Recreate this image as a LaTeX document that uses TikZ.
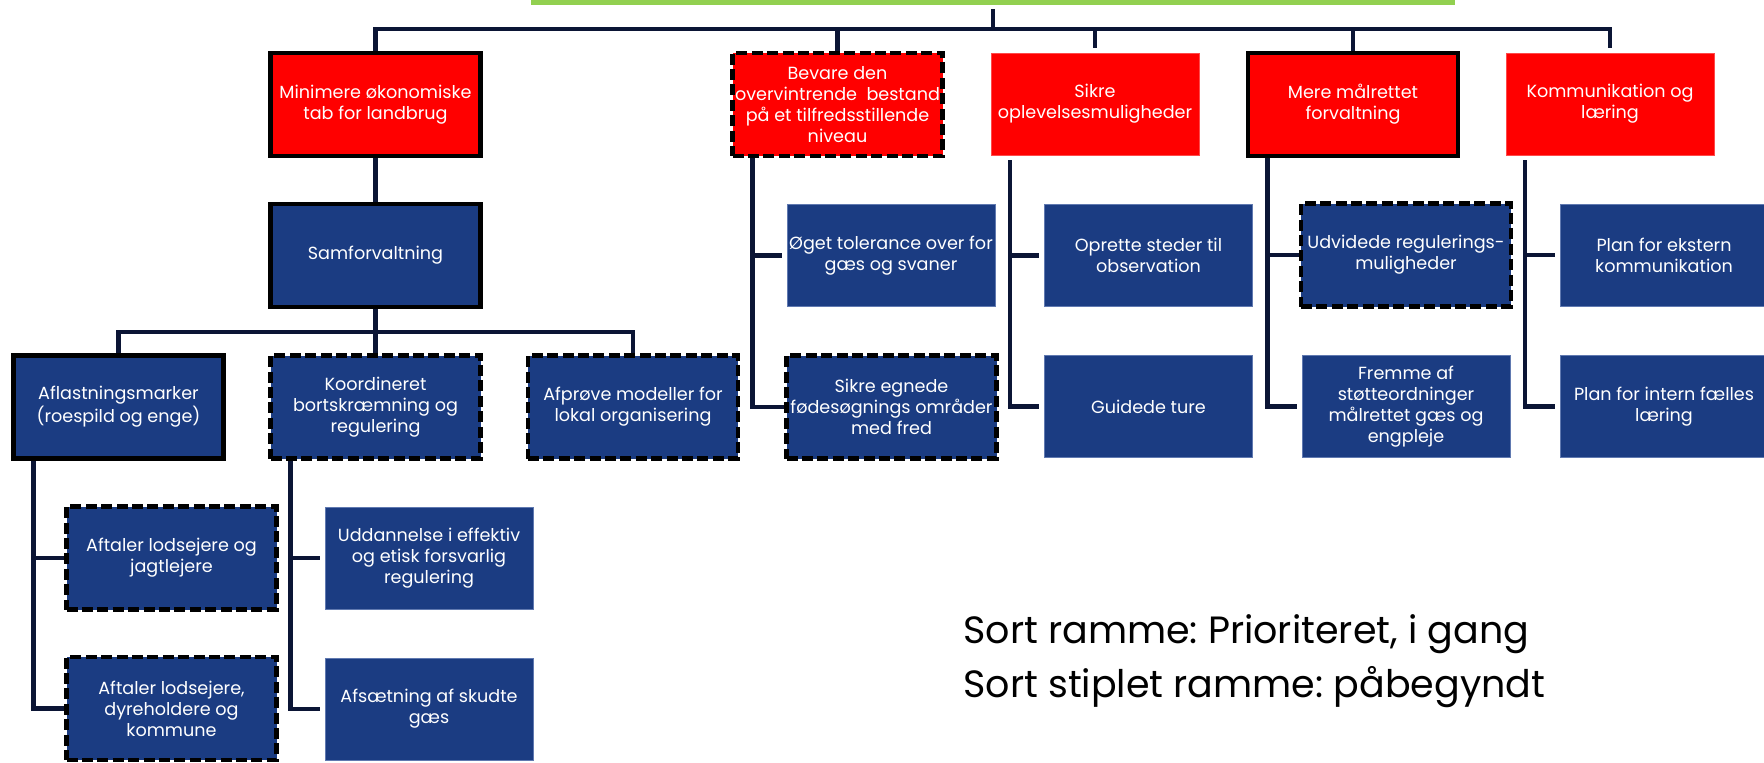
\documentclass[tikz,border=0pt]{standalone}
\usepackage{fontspec}
\setmainfont{Poppins}
\usetikzlibrary{calc}
\definecolor{boxred}{HTML}{FF0000}
\definecolor{boxblue}{HTML}{1B3C82}
\definecolor{connavy}{HTML}{0B1535}
\definecolor{topgreen}{HTML}{92D050}
\definecolor{blueedge}{HTML}{6079B0}
\definecolor{rededge}{HTML}{FF4A4A}
\frenchspacing
\begin{document}
\begin{tikzpicture}[x=0.5pt,y=-0.5pt,
  box/.style={rectangle, minimum width=105pt, minimum height=51.5pt, inner sep=1pt,
    align=center, text=white, font=\fontsize{8.8}{10.5}\selectfont},
  redbox/.style={box, fill=boxred},
  bluebox/.style={box, fill=boxblue},
  solidframe/.style={draw=black, line width=2.25pt},
  dashframe/.style={draw=black, line width=2.1pt, dash pattern=on 5.5pt off 2.2pt},
  noframe/.style={minimum width=104pt, minimum height=51pt, line width=0.5pt, outer sep=2.6pt},
  rsolid/.style={redbox, solidframe},
  rdash/.style={redbox, dashframe},
  rplain/.style={redbox, noframe, draw=rededge},
  bsolid/.style={bluebox, solidframe},
  bdash/.style={bluebox, dashframe},
  bplain/.style={bluebox, noframe, draw=blueedge},
  conn/.style={draw=connavy, line width=2.3pt},
  legendtext/.style={anchor=base west, inner sep=0pt, font=\fontsize{19}{23}\selectfont, text=black}
]
\useasboundingbox (0,0) rectangle (1764,762);

% top (cut-off) box
\node[rectangle, fill=topgreen, inner sep=0pt, minimum width=462pt, minimum height=2.3pt, outer sep=2.3pt] (top) at (993,2.3) {};

% level 1
\node[rsolid] (min) at (375.5,104.5) {Minimere økonomiske\\tab for landbrug};
\node[rdash]  (bev) at (837.5,104.5) {Bevare den\\overvintrende~ bestand\\på et tilfredsstillende\\niveau};
\node[rplain] (sik) at (1095,104) {Sikre\\oplevelsesmuligheder};
\node[rsolid] (mer) at (1353,104.5) {Mere målrettet\\forvaltning};
\node[rplain] (kom) at (1610,104) {Kommunikation og\\læring};

% Minimere subtree
\node[bsolid] (sam) at (375.5,255.5) {Samforvaltning};
\node[bsolid] (afl) at (118.5,407) {Aflastningsmarker\\(roespild og enge)};
\node[bdash]  (koo) at (375.5,407) {Koordineret\\bortskræmning og\\regulering};
\node[bdash]  (afp) at (633,407) {Afprøve modeller for\\lokal organisering};
\node[bdash]  (jag) at (171.5,558) {Aftaler lodsejere og\\jagtlejere};
\node[bdash]  (dyr) at (171.5,708.5) {Aftaler lodsejere,\\dyreholdere og\\kommune};
\node[bplain] (udd) at (429,558) {Uddannelse i effektiv\\og etisk forsvarlig\\regulering};
\node[bplain] (afs) at (429,709) {Afsætning af skudte\\gæs};

% Bevare subtree
\node[bplain] (oeg) at (891,255.5) {Øget tolerance over for\\gæs og svaner};
\node[bdash]  (sfo) at (891.5,407) {Sikre egnede\\fødesøgnings områder\\med fred};

% Sikre subtree
\node[bplain] (opr) at (1148.5,255.5) {Oprette steder til\\observation};
\node[bplain] (gui) at (1148.5,406.5) {Guidede ture};

% Mere subtree
\node[bdash]  (udv) at (1406,255) {Udvidede regulerings-\\muligheder};
\node[bplain] (fre) at (1406,406.5) {Fremme af\\støtteordninger\\målrettet gæs og\\engpleje};

% Kommunikation subtree
\node[bplain] (ple) at (1664,255) {Plan for ekstern\\kommunikation};
\node[bplain] (pli) at (1664,406.5) {Plan for intern fælles\\læring};

% connectors: top bus
\coordinate (bus1) at (993,29);
\draw[conn] (top.south) -- (bus1);
\draw[conn] (min.north) |- (bus1) -| (kom.north);
\draw[conn] (bev.north) -- (bev.north |- bus1);
\draw[conn] (sik.north) -- (sik.north |- bus1);
\draw[conn] (mer.north) -- (mer.north |- bus1);

% Minimere -> Samforvaltning -> level 3
\draw[conn] (min.south) -- (sam.south |- min.south) -- (sam.north);
\coordinate (bus2) at (375.5,332);
\draw[conn] (sam.south) -- (koo.north);
\draw[conn] (afl.north) |- (bus2) -| (afp.north);

% elbow connectors
\draw[conn] ($(afl.south west)+(22,0)$) |- (jag.west);
\draw[conn] ($(afl.south west)+(22,0)$) |- (dyr.west);
\draw[conn] ($(koo.south west)+(22,0)$) |- (udd.west);
\draw[conn] ($(koo.south west)+(22,0)$) |- (afs.west);
\draw[conn] ($(bev.south west)+(22,0)$) |- (oeg.west);
\draw[conn] ($(bev.south west)+(22,0)$) |- (sfo.west);
\draw[conn] ($(sik.south west)+(24,0)$) |- (opr.west);
\draw[conn] ($(sik.south west)+(24,0)$) |- (gui.west);
\draw[conn] ($(mer.south west)+(22,0)$) |- (udv.west);
\draw[conn] ($(mer.south west)+(22,0)$) |- (fre.west);
\draw[conn] ($(kom.south west)+(24,0)$) |- (ple.west);
\draw[conn] ($(kom.south west)+(24,0)$) |- (pli.west);

% legend
\node[legendtext] (leg1) at (963,643) {Sort ramme: Prioriteret, i gang};
\node[legendtext] (leg2) at (963,697) {Sort stiplet ramme: påbegyndt};
\end{tikzpicture}
\end{document}
